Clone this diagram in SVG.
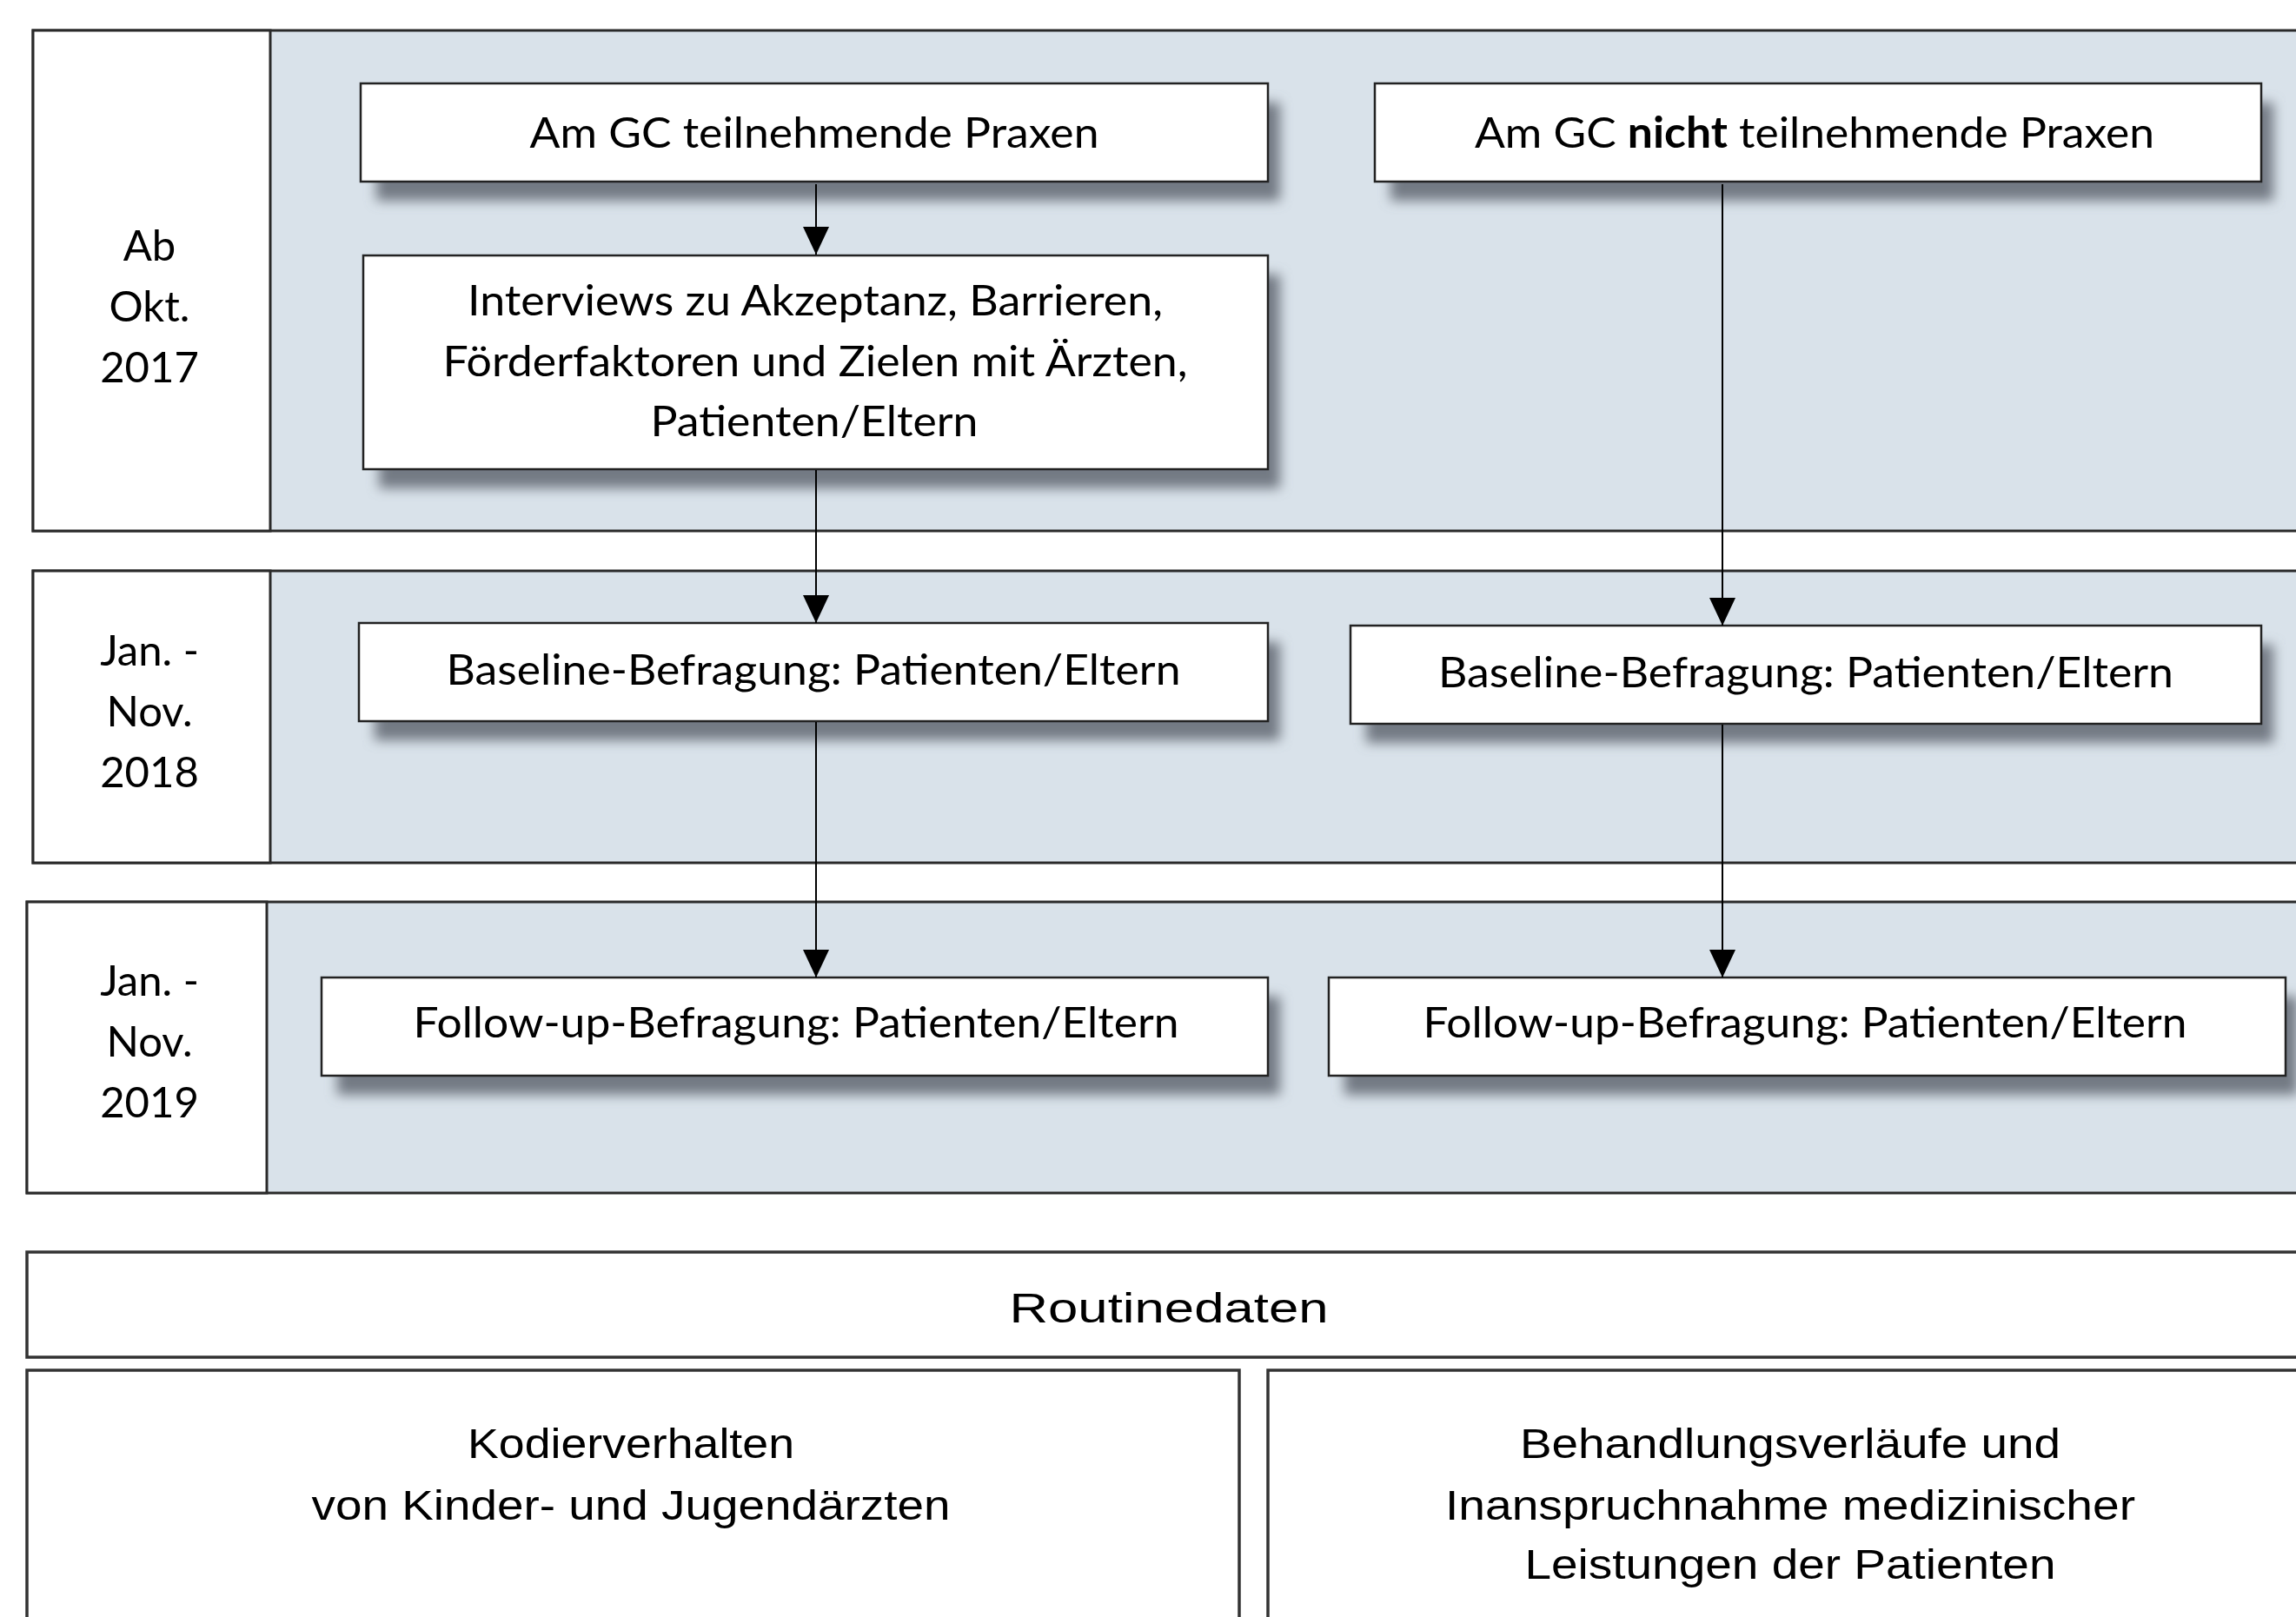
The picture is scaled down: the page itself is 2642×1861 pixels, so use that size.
<svg xmlns="http://www.w3.org/2000/svg" width="2642" height="1861" viewBox="0 0 2642 1861">
<style>
.lane{fill:#d9e2ea;stroke:#2a2a2a;stroke-width:3}
.lbl{fill:#ffffff;stroke:#2a2a2a;stroke-width:3}
.box{fill:#ffffff;stroke:#222;stroke-width:2.5}
.sh{fill:#737a84}
.t{font-family:Lato,"Open Sans","Liberation Sans",sans-serif;font-size:49px;fill:#000;text-anchor:middle}
.a{font-family:"Liberation Sans",Arial,sans-serif;font-size:48px;fill:#000;text-anchor:middle}
.rb{fill:#ffffff;stroke:#333;stroke-width:3.5}
.c{stroke:#000;stroke-width:2;fill:none}
</style>
<defs>
<filter id="blur" x="-10%" y="-40%" width="120%" height="180%">
<feGaussianBlur stdDeviation="7"/>
</filter>
<marker id="ah" markerUnits="userSpaceOnUse" markerWidth="34" markerHeight="30" refX="32" refY="15" orient="auto" viewBox="0 0 34 30">
<path d="M0,0 L32,15 L0,30 Z" fill="#000"/>
</marker>
</defs>
<rect width="2642" height="1861" fill="#ffffff"/>

<g id="lane1">
<rect class="lane" x="38" y="35" width="2640" height="576"/>
<rect class="lbl" x="38" y="35" width="273" height="576"/>
<text class="t" x="172" y="300">Ab</text>
<text class="t" x="172" y="370">Okt.</text>
<text class="t" x="172" y="440">2017</text>
</g>
<g id="lane2">
<rect class="lane" x="38" y="657" width="2640" height="336"/>
<rect class="lbl" x="38" y="657" width="273" height="336"/>
<text class="t" x="172" y="766">Jan. -</text>
<text class="t" x="172" y="836">Nov.</text>
<text class="t" x="172" y="906">2018</text>
</g>
<g id="lane3">
<rect class="lane" x="31" y="1038" width="2640" height="335"/>
<rect class="lbl" x="31" y="1038" width="276" height="335"/>
<text class="t" x="172" y="1146">Jan. -</text>
<text class="t" x="172" y="1216">Nov.</text>
<text class="t" x="172" y="1286">2019</text>
</g>

<g id="teilnehmend">
<rect class="sh" x="433" y="118" width="1040" height="113" filter="url(#blur)"/>
<rect class="box" x="415" y="96" width="1044" height="113"/>
<text class="t" x="937" y="170" textLength="655" lengthAdjust="spacingAndGlyphs">Am GC teilnehmende Praxen</text>
</g>
<g id="nicht_teilnehmend">
<rect class="sh" x="1600" y="118" width="1016" height="113" filter="url(#blur)"/>
<rect class="box" x="1582" y="96" width="1020" height="113"/>
<text class="t" x="2088" y="170" textLength="782" lengthAdjust="spacingAndGlyphs">Am GC <tspan font-weight="bold">nicht</tspan> teilnehmende Praxen</text>
</g>
<g id="interviews">
<rect class="sh" x="436" y="316" width="1037" height="246" filter="url(#blur)"/>
<rect class="box" x="418" y="294" width="1041" height="246"/>
<text class="t" x="938" y="363" textLength="800" lengthAdjust="spacingAndGlyphs">Interviews zu Akzeptanz, Barrieren,</text>
<text class="t" x="938" y="433" textLength="857" lengthAdjust="spacingAndGlyphs">Förderfaktoren und Zielen mit Ärzten,</text>
<text class="t" x="937" y="502" textLength="377" lengthAdjust="spacingAndGlyphs">Patienten/Eltern</text>
</g>
<g id="baseline_left">
<rect class="sh" x="431" y="739" width="1042" height="113" filter="url(#blur)"/>
<rect class="box" x="413" y="717" width="1046" height="113"/>
<text class="t" x="936" y="788" textLength="845" lengthAdjust="spacingAndGlyphs">Baseline-Befragung: Patienten/Eltern</text>
</g>
<g id="baseline_right">
<rect class="sh" x="1572" y="742" width="1044" height="113" filter="url(#blur)"/>
<rect class="box" x="1554" y="720" width="1048" height="113"/>
<text class="t" x="2078" y="791" textLength="846" lengthAdjust="spacingAndGlyphs">Baseline-Befragung: Patienten/Eltern</text>
</g>
<g id="followup_left">
<rect class="sh" x="388" y="1147" width="1085" height="113" filter="url(#blur)"/>
<rect class="box" x="370" y="1125" width="1089" height="113"/>
<text class="t" x="916" y="1194" textLength="881" lengthAdjust="spacingAndGlyphs">Follow-up-Befragung: Patienten/Eltern</text>
</g>
<g id="followup_right">
<rect class="sh" x="1547" y="1147" width="1097" height="113" filter="url(#blur)"/>
<rect class="box" x="1529" y="1125" width="1101" height="113"/>
<text class="t" x="2077" y="1194" textLength="879" lengthAdjust="spacingAndGlyphs">Follow-up-Befragung: Patienten/Eltern</text>
</g>

<g id="connectors">
<line class="c" x1="939" y1="212" x2="939" y2="293" marker-end="url(#ah)"/>
<line class="c" x1="939" y1="541" x2="939" y2="717" marker-end="url(#ah)"/>
<line class="c" x1="939" y1="831" x2="939" y2="1125" marker-end="url(#ah)"/>
<line class="c" x1="1982" y1="212" x2="1982" y2="720" marker-end="url(#ah)"/>
<line class="c" x1="1982" y1="834" x2="1982" y2="1125" marker-end="url(#ah)"/>
</g>

<g id="routinedaten">
<rect class="rb" x="31" y="1441" width="2640" height="121"/>
<text class="a" x="1345" y="1522" font-size="56" textLength="367" lengthAdjust="spacingAndGlyphs">Routinedaten</text>
</g>
<g id="kodierverhalten">
<rect class="rb" x="31" y="1577" width="1395" height="320"/>
<text class="a" x="726" y="1678" textLength="376" lengthAdjust="spacingAndGlyphs">Kodierverhalten</text>
<text class="a" x="726" y="1749" textLength="735" lengthAdjust="spacingAndGlyphs">von Kinder- und Jugendärzten</text>
</g>
<g id="behandlungsverlaeufe">
<rect class="rb" x="1459" y="1577" width="1220" height="320"/>
<text class="a" x="2060" y="1678" textLength="622" lengthAdjust="spacingAndGlyphs">Behandlungsverläufe und</text>
<text class="a" x="2060" y="1749" textLength="794" lengthAdjust="spacingAndGlyphs">Inanspruchnahme medizinischer</text>
<text class="a" x="2060" y="1817" textLength="611" lengthAdjust="spacingAndGlyphs">Leistungen der Patienten</text>
</g>
</svg>
